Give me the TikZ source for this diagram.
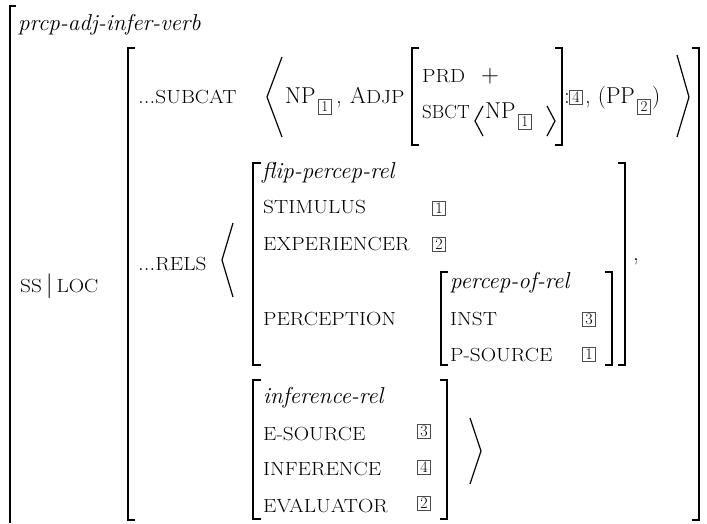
\documentclass[tikz,border=0pt]{standalone}
\usepackage{fontspec}
\usepackage{graphicx}
\usepackage{tikz}
\usetikzlibrary{calc}
\newcommand{\avmattr}[2][1.12]{\scalebox{#1}[1]{\fontsize{19}{20}\selectfont #2}}
\tikzset{
  brk/.style={black,line width=1.7pt},
  ang/.style={black,line width=1.2pt},
  lbl/.style={anchor=base west,inner sep=0pt},
  tagbox/.style={draw=black!70,line width=0.6pt,inner sep=0pt,minimum width=13pt,minimum height=14pt,font=\fontsize{16}{16}\selectfont},
  subtag/.style={tagbox,minimum width=13pt,minimum height=15pt,font=\fontsize{15}{15}\selectfont},
}
\begin{document}
\begin{tikzpicture}[x=1pt,y=-1pt,font=\fontsize{23}{27}\selectfont]
            \useasboundingbox (0,0) rectangle (707,523);
            % Outer brackets
            \draw[brk](16,6)--(10,6)--(10,523);
            \draw[brk](135,48)--(128,48)--(128,520)--(135,520);
            \draw[brk](692,48)--(699,48)--(699,520)--(692,520);
            % Type and path
            \node[lbl](type) at (18,30) {\itshape prcp-adj-infer-verb};
            \node[lbl](ssloc) at (20,292) {\avmattr{SS}\,$|$\,\avmattr{LOC}};
            % Subcat list
            \node[lbl](subcat) at (138,103) {...\avmattr{SUBCAT}};
            \draw[ang](282,57)--(267,97)--(282,137);
            \node[lbl](npa) at (285,103) {NP};
            \node[subtag](ta) at ($(npa.base east)+(9,4)$) {1};
            \node[lbl](comma1) at (336,103) {,};
            \node[lbl](adjp) at (350,103) {A\avmattr{DJP}};
            \draw[brk](419,48)--(412,48)--(412,145)--(419,145);
            \node[lbl](prd) at (422,82) {\avmattr{PRD}};
            \node[lbl](plus) at (481,82) {$+$};
            \node[lbl](sbct) at (422,118) {\avmattr[1]{SBCT}};
            \draw[ang](483,106)--(475,121)--(483,136);
            \node[lbl](npb) at (485,118) {NP};
            \node[subtag](tb) at ($(npb.base east)+(9,4)$) {1};
            \draw[ang](547,106)--(555,121)--(547,136);
            \draw[brk](555,48)--(562,48)--(562,145)--(555,145);
            \node[lbl](colon) at (564,103) {:};
            \node[tagbox](t4) at (576,97) {4};
            \node[lbl](pp) at (585,103) {, (PP};
            \node[subtag](tc) at ($(pp.base east)+(9,4)$) {2};
            \node[lbl](rpar) at ($(tc.east)+(1,-4)$) {)};
            \draw[ang](677,55)--(689,97)--(677,137);
            % Rels list
            \node[lbl](rels) at (138,270) {...\avmattr{RELS}};
            \draw[ang](233,223)--(222,260)--(233,297);
            % flip-percep-rel
            \draw[brk](261,163)--(253,163)--(253,365)--(261,365);
            \draw[brk](618,163)--(625,163)--(625,365)--(618,365);
            \node[lbl](flip) at (262,178) {\itshape flip-percep-rel};
            \node[lbl](stim) at (263,213) {\avmattr{STIMULUS}};
            \node[tagbox](ts) at (439,208) {1};
            \node[lbl](exp) at (263,250) {\avmattr{EXPERIENCER}};
            \node[tagbox](te) at (439,244) {2};
            \node[lbl](perc) at (263,325) {\avmattr{PERCEPTION}};
            \draw[brk](448,272)--(441,272)--(441,365)--(448,365);
            \draw[brk](605,272)--(612,272)--(612,365)--(605,365);
            \node[lbl](pof) at (450,288) {\itshape percep-of-rel};
            \node[lbl](inst) at (450,325) {\avmattr{INST}};
            \node[tagbox](ti) at (589,319) {3};
            \node[lbl](psrc) at (450,361) {\avmattr{P-SOURCE}};
            \node[tagbox](tp) at (589,354) {1};
            \node[lbl](comma2) at (633,260) {,};
            % inference-rel
            \draw[brk](261,380)--(253,380)--(253,519)--(261,519);
            \draw[brk](440,380)--(447,380)--(447,519)--(440,519);
            \node[lbl](infr) at (263,403) {\itshape inference-rel};
            \node[lbl](esrc) at (263,440) {\avmattr{E-SOURCE}};
            \node[tagbox](tes) at (424,431) {3};
            \node[lbl](inf) at (263,475) {\avmattr{INFERENCE}};
            \node[tagbox](tin) at (424,467) {4};
            \node[lbl](eval) at (263,512) {\avmattr{EVALUATOR}};
            \node[tagbox](tev) at (424,503) {2};
            \draw[ang](470,418)--(481,451)--(470,484);
\end{tikzpicture}
\end{document}
